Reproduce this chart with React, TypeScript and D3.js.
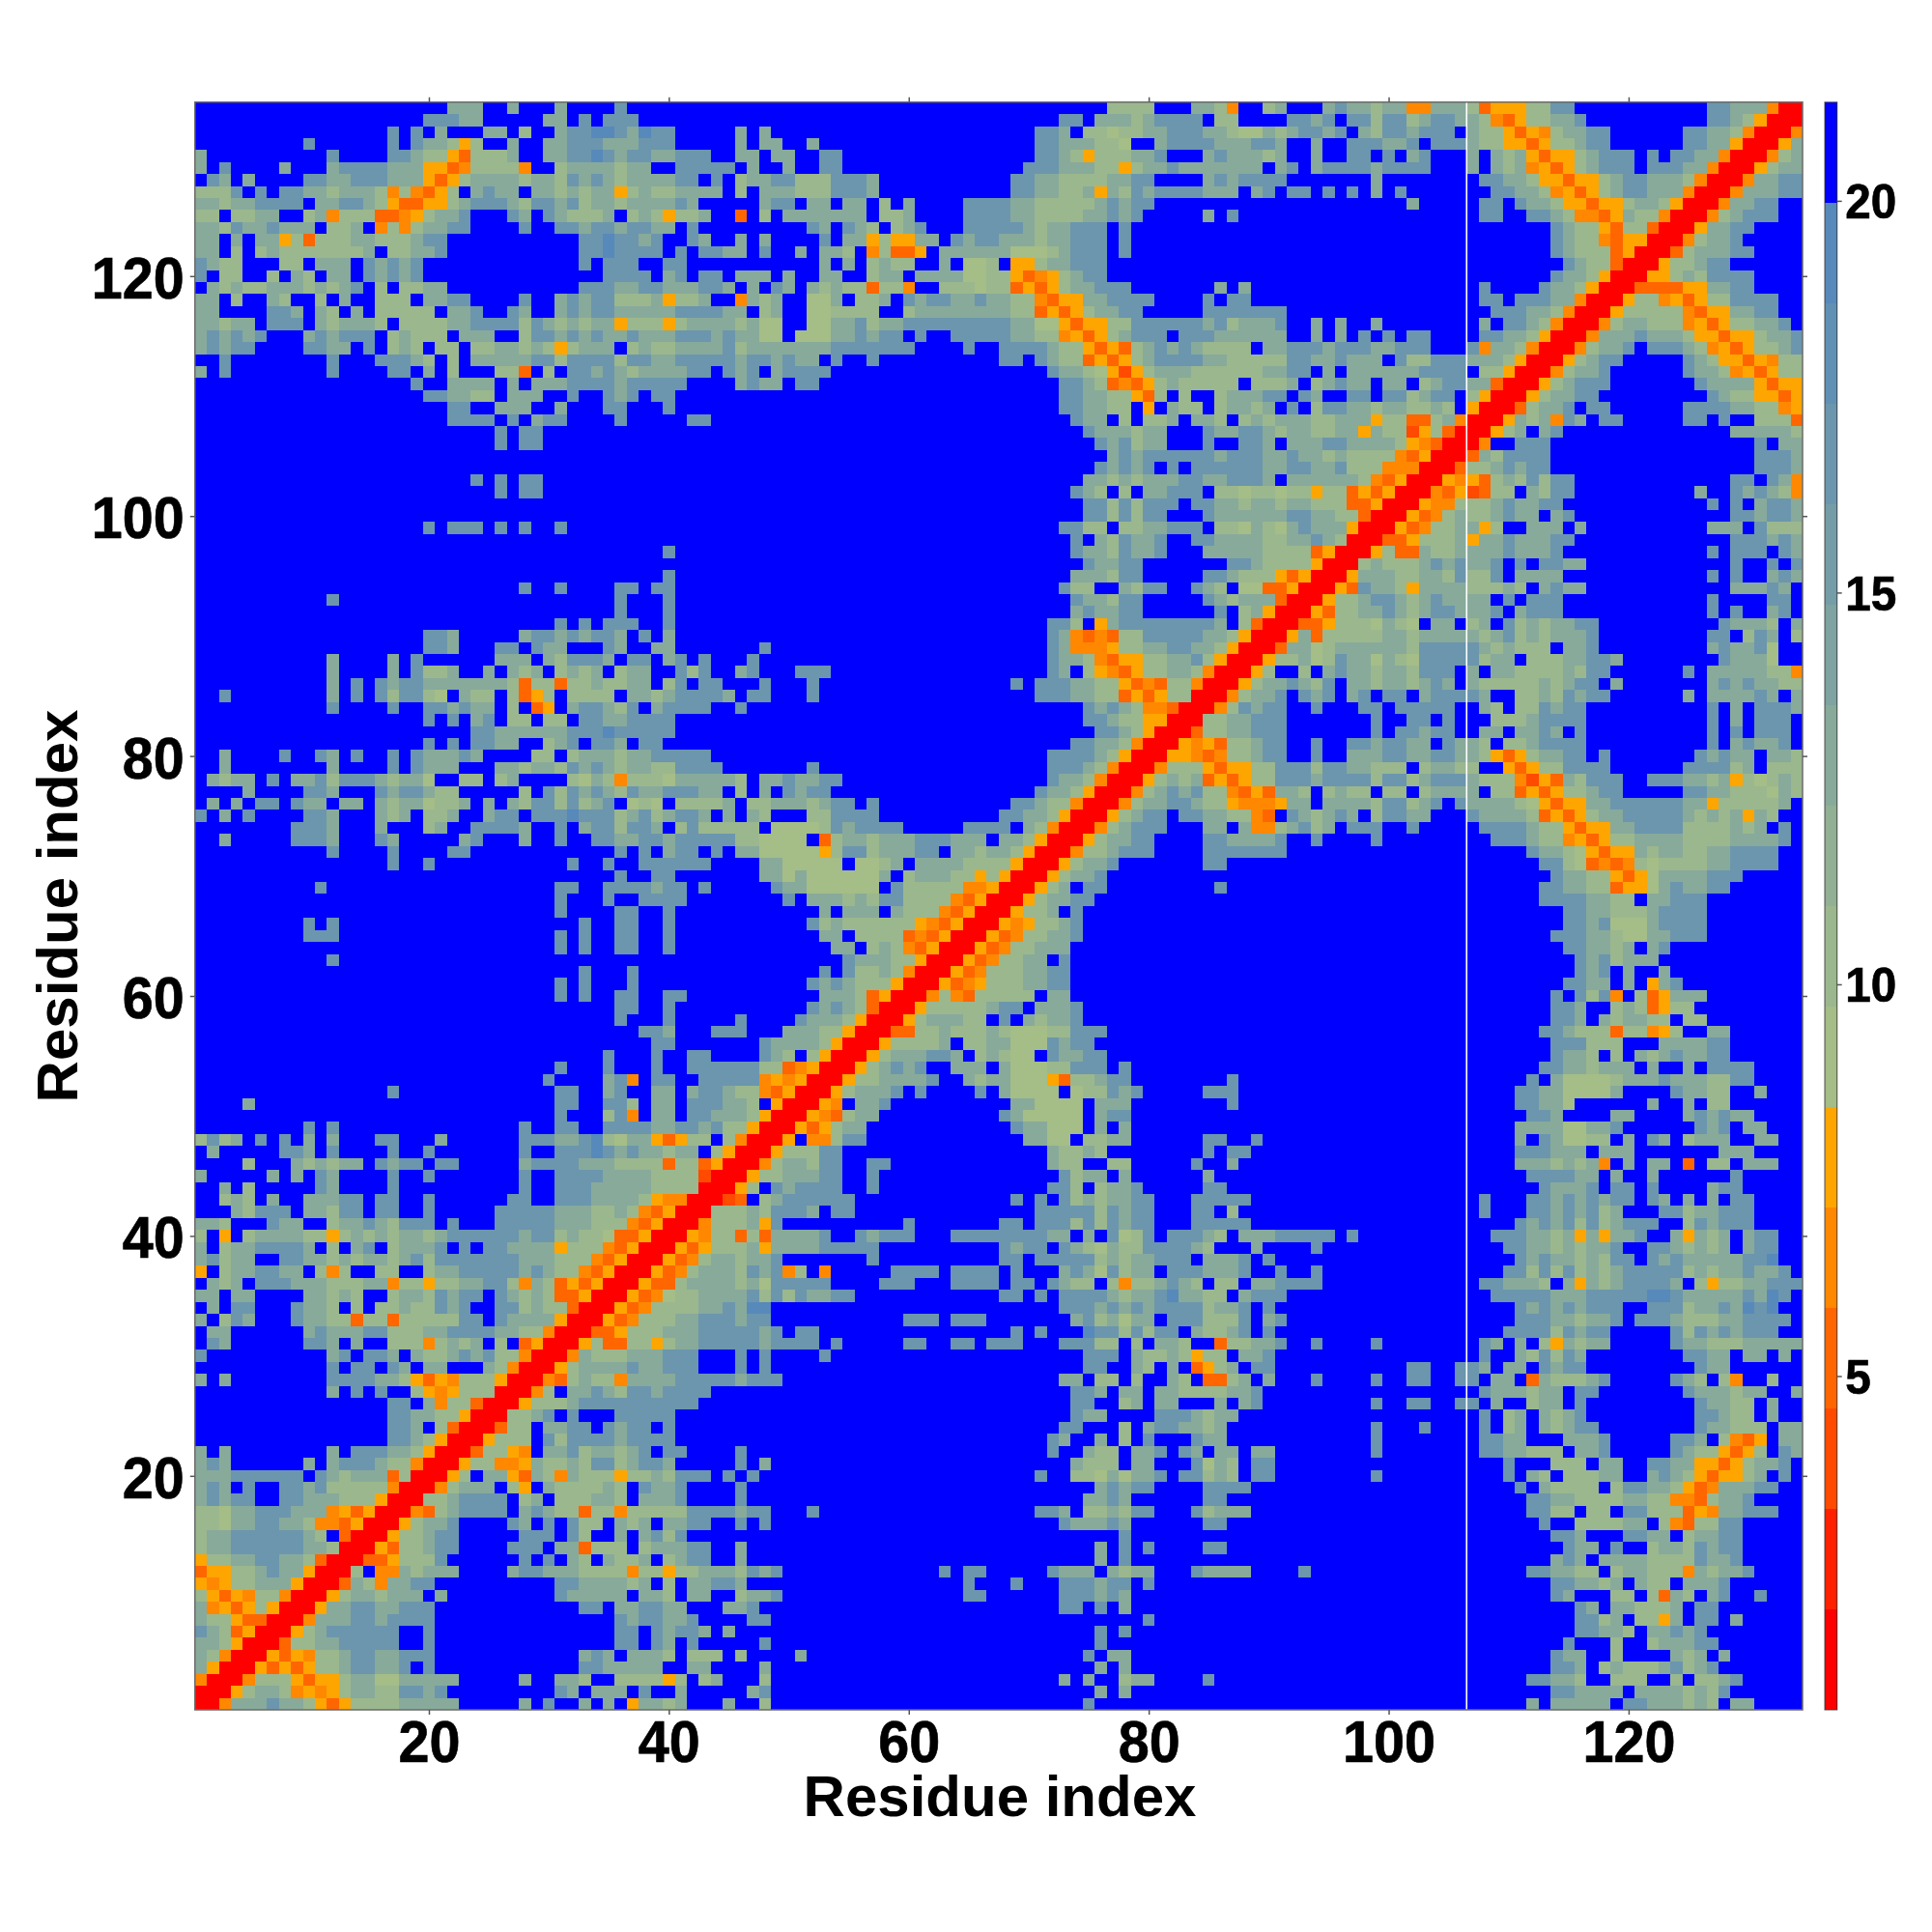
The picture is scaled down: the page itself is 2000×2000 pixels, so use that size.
import React, { useEffect, useRef } from "react";
import * as d3 from "d3";

// Distance bins, letter -> value at the middle of the bin
const binLetters = "abcdefgihkjlmno.";
const binValues = [1.38, 2.66, 3.95, 5.23, 6.51, 7.79, 9.08, 10.36, 11.64, 12.92, 14.21, 15.49, 16.77, 18.05, 19.34, 20.62];
const warmColors = ["#ff0000", "#ff2000", "#ff4a00", "#ff6600", "#ff8800", "#ffa500"];
const coolEnds = ["#a5bd87", "#5789bb"];
const farColor = "#0000ff";

const xTicks = [20, 40, 60, 80, 100, 120];
const barTicks = [5, 10, 15, 20];

// Map is symmetric, so only residue j <= i is kept. First line is i = 134, last i = 1.
// Each line has up to 3 chunks for j = 1-44, 45-89, 90-134. "3." = three far cells, short chunks end in far cells.
const distanceRows = [
  "21.kkk2.k3.k4.m 32.iiii3.kkie ik3.kmkkikkeekkkidfffiimm11.mmkkkeaa",
  "19.mmmkk5.kk.m.mmm 28.mm.kkkikmmmm.ii 2.mmkm.mmimmikmmkkiedfiikkm10.mmkifaa",
  "16.m.m.k3.kk.i2.kmmoomkomm .k.k22.mmk.iigiikkmmmkkigg kikmmkm.kimmkmmm.kiifdfeikkmm6.mmkkieaa",
  "9.m6.m.mkkifi2.k2.kkmmmkkkmmm .k.kk2.k18.mmkkkiig2.kmmmmkkkm mk2.k2.mmmkkm.mmmkiiffdfiikmm6.mmkkfaa",
  "k10.m4.mmkiifdiiik2.kkmmomkmmkkmmm .kk.kk2.mm16.mmkifiiikkm3.kmkkk ik2.k2.mm.m.km3.k.kikfdffikmmm.m.mmkkeaa",
  "k.m4.k3.kmmmmkkkffdeiiiie2.ikkkkikk2.mmmm m.k2.k2.mm15.mmmkkkiifikkmkkkkkkk .km.kmmmmkmmmm3.k.kikefdfikmmm.mmmkkeaa",
  ".mk.k4.mmkkmmmkkkfdfikkkkikkimkmkikkkkmm.m .ikkmmiiimmmk11.mmkkiiiikkmm4.kmkmm mm7.k8.mmkkiffdffikmmkkkieaa",
  "iiim.m.mmkkikkkieiedfi.kmkk.kkikikkfikiikkkk .i.kkkiiimmmk11.mmkkiikfkimkmmmmkkk.k m.mm.m.m.k.m7.mmkkiefdfikmmkkkeaa",
  "kkikkmmmm.kkmmkifddffikmmmkimmkmikkikkkkmk2. 3.kmm.kk.kk.i.k4.mmmmkkiiiiikmkmm 12.k5.mm.mkkiffdffikkifaa",
  "ii.iikk2.ikeiiiddefikkm3.mk.mkiiik.ikifiik .d.i.kkkkkkk.iik4.mmmmkkiiiikkmkm5.k.m 18.mm2.mmkieedfkiieaa",
  "kkimkkmkkk.iik.eieikkmm4.m2.mmkmmkmmkk.m 7.mk.mki.ikm3.mmmmmkikkmmm.m 24.mkiifdiidaa",
  "kk.k.kkfidiiikkiiikmm11.mmommkm2.mk .k.k4.m.kkfiffkk.mkmmkkkikkmmm.m 24.mkiiedffaa",
  "kk.i.ikiiiiiiik.iikkm11.mmommmm.m.mm kk.m2.k.kki.eiddf.kkkkkkgggikmmm.m 24.mkiiidfaa",
  "mkii3.ii.kkk.mkmkm13.m.mmm2.mm 8.k.k.ikii2.k.ggi.ffikkmmm 25.mkiidaa",
  "m.ii2.i.ki.kk.mkmkm15.mmmm.km.mm .kkk.k2.kk2.ikk.kkkkggiifdefikmm 24.mkkifaa",
  ".kikiikkkikikm.i.iikk11.mmmkkmmkkkmm k.k.mk.kikiidiie2.iiigiidfdfikkmmm7.k.k 18.m4.mkkifaa",
  "kk.i2.ki2.i.k2.iii.kkmm4.m2.kmkmmiiikfiik. .ekik2.ggk.iik.mkmmkkmkkiiedffkkmmmm4.m.mm 18.mm.mmmkkeaa",
  "kk4.mmk.ki.k.iiiii.kkm2.mk2.kmkmmkkkkkmmmm kk.ik2.ggiiii2.ikkkkkkkkiidfdfikkmm5.mmmmm mm17.mmmkkieaa",
  "kkikk.mmm.kikkki.iiiikkmmmmimkikikkfiiifikkk kikgg2.ggkkmikkmmmmmmmmmkkggfdffiimmmmmmkmikk km2.k.k2.k8.k.mmkieaa",
  "kmkmkm3.kmkmmm.ikiii.kkk2.immkmkmkkmkkkmmmk mkkgg.gggkkmkmm.m2.mmmmmkkiiefdfikmmm.mmmkkkk kk2.k.k.m.m.mm4.mmkkifaa",
  "kmkmm4.mmkk.m.iki.ii.iikkikifikkk.ikiikkkk mikkkkkkkmmmmmmm4.m2.mmmmkiifdfdikmkmkiiii. kkmmmkmmmkkmmm3.mekkieaa",
  "2.m8.m3.mmmki.i.kkkkkmmimmmmimmkkmmmm mkmmkmkk.m2.m10.mm.mkiidfdfikmmmmkkiii iimmkkmkkk.miimmmkkkifaa",
  "k.m8.m4.mm.k.i3.iid.i.mmkmkikkkkmm. mkm.kmmmm18.mkkigfcfikkkiiiiii kkmm.k.kkkkkkmmmm.iifaa",
  "18.m2.kkkk.k.kkkmmmmkmmmmm .kmkk.mm20.mmkidedfikiiiii.i iik.ikmkk.kk.ikmmkkdaa",
  "19.mmkkii.kkk2.m2.mkm.mm 28.mmkkiifdi.i2.ikkk mm.mk2.mm.mmikmm.ifaa",
  "21.mm2.kkk2.k3.mm3.m 28.mmkkii.f.kii.ikki k.m.immkkikkiiki.faa",
  "21.mmmm.m.kmm4.m5.mm 29.mkk.i.iik.kki.ik ikkkiikkkfiiddikeaa",
  "25.m.mm 30.mkkkikk3.mkkmm kikkiikkfkiicfidaa",
  "25.m.mm 31.mkmikk3.m2.mm k.kkkmmkkkkifedaa",
  ". 32.kmkmmmmmmkmmm kkmkkikiiiiedfaa",
  ". 31.mkmkm.m.mmmmmm kkmmkkmiiieeeaa",
  "23.m.m.mm 30.kkikikkkmmkkmmm k.kkkkkkiedfaa",
  "25.m.mm 29.mki.i.kkmmm.iigi igiifiidfdfaa",
  ". 30.mmimimmm.mmkkik kikkiiiddfaa",
  ". 30.mmimimm3.mkkkk kkmmkkiidaa",
  "19.m.mmm.m.m2.m 28.mmii.iikkmmm.iigk igkmkkkfaa",
  ". 29.m.kimkkm2.mmkkkk iikkmkiaa",
  "39.m 29.mkkimkkm3.kkkkk iiiidfaa",
  ". 30.mkkmm7.mmk iiiifaa",
  "39.m 29.kkkimm5.mmkii ifdfaa",
  "27.m2.m4.mm.mm 28.mii2.kimm2.mki.gg ddfaa",
  "11.m23.m3.m 29.mkkimm5.mkikk kdaa",
  "35.m3.m 29.kmkkmm6.m.ik faa",
  "30.m.m.mmm2.m 27.mmi.fkmmmmmmmmk.id aa",
  "19.mmk5.kmmkmkmmk.m.k 27.mkedediimmmmmkkifa a",
  "19.mmk3.mm.mkk3.mk2.kk 3.m23.mkeeefiikkmmkkifaa",
  "11.k4.k.m6.kkk.kimmmk.mm.km.m 2.m24.mkkiedffiikkmifaa",
  "11.k4.k.miik2.k.kik.ikik.ikk2.mim .km3.mmm18.mk.ifedfiikkieaa",
  "11.k.m.mkmmkkkkkkkidiidiikiikk.im.mm 3.m3.m16.m.mmmkkiifdediieaa",
  "2.m8.k.m.mimmig.kii.idfi.iiii.kkikmmmm k.mm3.m18.mmmkkiidfdfiiaa",
  "11.m4.m2.mmkmkk.i.df.kmmkim.kmmmm .m28.mkmkieedaa",
  "19.m.m.km.ii.ii.mmkkmmmm 30.mmkiiffaa",
  "23.mmkkkkkkmmmommmmm 31.mmkifaa",
  "19.m.m.mmkk2.ikm.mmk.mm 29.mmkkieaa",
  "2.k4.m2.mk.m2.m.mkkkmk4.ii.ikkkikkmmmmm 27.mmmmkifaa",
  "2.k8.k4.m.mkkk3.kkikkimkmkikkiimmmm 7.m19.mmmkieaa",
  ".kikk.m.kkmimmmkikkg2.ii.ik4.igkieiiigkkkk ki.kkmkkmm17.mkkieaa",
  "4.k4.mmk3.mkmmkii5.i.mimkmkimkkmmmkk .i.k.mkmm17.mkkifaa",
  ".k.k.mm.mkk.kk.kikkgiik.k.kimmimikm.gig.iiii k.iikkkikmm.m11.mmkiieaa",
  "m.k.m4.mmk3.kik.iik2.kmm.mmmommmikmikmmk. k.ki3.iimmmm10.mmkkifaa",
  "8.mmmk3.k3.ik2.mmmmk2.m.kmmimmk.imii iii.ggggimkmmmm5.mmmm.kieaa",
  "2.k5.mmmk3.mk5.km3.k2.m2.mmkkmmkmmmm miigggg.dikkikkkmmmkkk.kkifaa",
  "11.m4.m4.mm12.m.m.kmm.m .kkgggggfimmikkkmm.kkikkifaa",
  "16.m2.m11.m2.m2.mmmmmm 3.kkggggg.ggik.kkkkiiiifaa",
  "35.m2.mm 3.kkgkggggggk.ikkkiififaa",
  "10.m19.mm2.mmmmkmm.m 4.mkkgggggg.miiiiieefaa",
  "30.m3.m2.mmmm 5.m.kkkikimmiiiiedfaa",
  "30.m4.mm2.m 8.k.kkk.kiiiedfaa",
  "9.m.m20.m2.mm2.m 7.mikiiiiiifedfaa",
  "9.mmm18.m.m2.mm2.m 8.kk.iiiidedfaa",
  "30.m.m2.mm2.m 9.kk.ikiedfaa",
  "11.m 10.mkkkiifaa",
  "32.m3.m 8.m.miikieaa",
  "30.m.m3.m 7.mkmkiiifaa",
  "30.m.m2.mm2.mm 8.kkkidfaa",
  "35.mm2.m 7.mkmkidaa",
  "35.m3.m .m4.mkkkifaa",
  "37.mmk3.m mm3.kkkiifaa",
  "38.mm 3.mkkkkifaa",
  "34.m3.m2.mm 3.mki.ifaa",
  "30.m3.m3.m2.mmm mmmiidefaa",
  "29.m4.kme.mm2.mm mmmefefaa",
  "16.m13.mm2.km2.kk.kmm kiiedfaa",
  "4.k25.mm2.mmi.kk.mmm kki.faa",
  "30.m3.ime.kk.mmk kkifaa",
  "9.m.m15.m2.mm2.mmmmkkmmkm iifaa",
  "imik.m.m.k.k3.mm3.k6.mmmkkmoigkkfdfii. ieaa",
  ".k5.mmk.m4.m2.m7.m2.mmmomkmkkikk.i faa",
  "4.i3.kikikk.mkmm.mm5.kmmmmkkkiiiidiidf aa",
  "k5.k.k.mk4.m2.m7.m2.mmmmkkkkiiiica a",
  "2.k.i5.mk4.m10.m2.mmmkkkkkiiiiaa",
  "2.iki.k2.kkkmm.mm2.m6.mm2.mmmkkkkifeeaa",
  "3.kimmm.kkimm.mm2.m5.mmmmmkkkiikiedfaa",
  "kki3.mkk2.ikkmkimmm.m3.mmmmmkkkiiiedfaa",
  "i.f.ikkkkiifikikikkikmmmmmmkmmikiigddfaa",
  "k.ikkmmmmk.i.km.ikkkm.m.mmkkkkfiiiedfaa",
  "kmikk2.mmkkikikkikmimmmmmmmkkkiiiedfaa",
  "f.ikkmmkk.iei2.ii2.ikkmmmmmkmkiiedfaa",
  ".kik.mmmkkkiiikkeiifiikkmmiekidfdfaa",
  "kk.kk4.kkiki2.ikkimkmm.mkikiddfaa",
  ".k.mm3.mkki.i.iikiimkm2.mmikiidaa",
  "k.imk3.mkkiidiidiiiiimm.mkkkkfaa",
  ".kk6.kmkkkmmiiikkmmmmkkiieaa",
  ".mk6.mmk.k2.iiieikik.i.dfaa",
  "m10.km.mmk.kiikmkmiieaa",
  "11.m.mm.mk.kk3.kieaa",
  "k.k8.mmmmkkifdfeiiifaa",
  "11.k.m.m2.ifefiiiaa",
  "16.mm.keiidaa",
  "16.mmkkiifaa",
  "16.mmk.idaa",
  "16.mmkifaa",
  "k.k8.k.mmmkkifaa",
  "kmk6.k.kmmmkiieaa",
  "kkkmmmmmm.mkikkkdiaa",
  "kmk.m2.mmkmiiiiieaa",
  "kmkmm2.mmkkkiiifaa",
  "iigkkmmmkkkefdfaa",
  "iigkkmmkkieedfaa",
  "ikkmmmmmmki.daa",
  "ikkmmmmmmkkiaa",
  "fiikkmmkkidaa",
  "dffiikmkkfaa",
  "fefiikkkfaa",
  "ifdfeiieaa",
  "kefdfifaa",
  "kiifddaa",
  "mkidfaa",
  "kkifaa",
  "kieaa",
  "kfaa",
  "eaa",
  "aa",
  "a",
];

const residueCount = distanceRows.length;
const chunkStarts = [1, 45, 90];

const expandChunk = (chunk: string) =>
  chunk.replace(/(\d+)([a-z.])/g, (_, n, c) => c.repeat(+n));

const decodeRow = (line: string, i: number) => {
  const cells: string[] = new Array(i).fill(".");
  line.split(" ").forEach((chunk, k) => {
    const text = expandChunk(chunk);
    for (let n = 0; n < text.length; n++) {
      const j = chunkStarts[k] + n;
      if (j <= i) cells[j - 1] = text[n];
    }
  });
  return cells;
};

const App = () => {
  const container = useRef<SVGSVGElement>(null);

  useEffect(() => {
    const svg = d3.select(container.current);
    svg.selectAll("*").remove();

    const left = 201.8;
    const right = 1866;
    const top = 105.7;
    const bottom = 1770;
    const fontFamily = "'Liberation Sans', Arial, sans-serif";

    const x = d3.scaleLinear().domain([0.5, residueCount + 0.5]).range([left, right]);
    const y = d3.scaleLinear().domain([0.5, residueCount + 0.5]).range([bottom, top]);

    const palette = [
      ...warmColors,
      ...d3.quantize(d3.interpolateRgb(coolEnds[0], coolEnds[1]), 9),
      farColor,
    ];
    const barDomain: [number, number] = [0.74, 21.26];
    const color = d3.scaleQuantize<string>().domain(barDomain).range(palette);

    // cell table, filled in both halves
    const cells: { i: number; j: number; value: number }[] = [];
    distanceRows.forEach((line, idx) => {
      const i = residueCount - idx;
      decodeRow(line, i).forEach((c, k) => {
        const j = k + 1;
        const value = binValues[binLetters.indexOf(c)];
        cells.push({ i, j, value });
        if (i !== j) cells.push({ i: j, j: i, value });
      });
    });

    svg
      .append("g")
      .attr("shape-rendering", "crispEdges")
      .selectAll("rect")
      .data(cells)
      .join("rect")
      .attr("x", (d) => x(d.j - 0.5))
      .attr("y", (d) => y(d.i + 0.5))
      .attr("width", (d) => x(d.j + 0.5) - x(d.j - 0.5))
      .attr("height", (d) => y(d.i - 0.5) - y(d.i + 0.5))
      .attr("fill", (d) => color(d.value));

    // thin white gap in the plot
    svg
      .append("line")
      .attr("x1", x(106.5))
      .attr("x2", x(106.5))
      .attr("y1", top)
      .attr("y2", bottom)
      .attr("stroke", "#ffffff")
      .attr("stroke-width", 1.6);

    // frame and axes
    svg
      .append("rect")
      .attr("x", left)
      .attr("y", top)
      .attr("width", right - left)
      .attr("height", bottom - top)
      .attr("fill", "none")
      .attr("stroke", "#6b6b6b")
      .attr("stroke-width", 1.5);

    const styleAxis = (g: any, size: number, digitWidth: number) => {
      g.select(".domain").remove();
      g.selectAll(".tick line").attr("stroke", "#555555").attr("stroke-width", 1.5);
      g.selectAll(".tick text")
        .attr("fill", "#000000")
        .attr("stroke", "#000000")
        .attr("stroke-width", 0.7)
        .attr("textLength", function (this: any) {
          return this.textContent.length * digitWidth;
        })
        .attr("lengthAdjust", "spacingAndGlyphs")
        .style("font-family", fontFamily)
        .style("font-weight", "bold")
        .style("font-size", `${size}px`);
    };

    const bottomAxis = svg
      .append("g")
      .attr("transform", `translate(0,${bottom})`)
      .call(d3.axisBottom(x).tickValues(xTicks).tickSize(5) as any);
    styleAxis(bottomAxis, 62, 32);
    bottomAxis.selectAll(".tick text").attr("y", 54).attr("dy", 0);

    const leftAxis = svg
      .append("g")
      .attr("transform", `translate(${left},0)`)
      .call(d3.axisLeft(y).tickValues(xTicks).tickSize(5).tickPadding(6) as any);
    styleAxis(leftAxis, 62, 32);
    leftAxis.selectAll(".tick text").attr("dy", 22.5);

    const topAxis = svg
      .append("g")
      .attr("transform", `translate(0,${top})`)
      .call(d3.axisTop(x).tickValues(xTicks).tickSize(5).tickFormat(() => "") as any);
    styleAxis(topAxis, 10, 0);

    const rightAxis = svg
      .append("g")
      .attr("transform", `translate(${right},0)`)
      .call(d3.axisRight(y).tickValues(xTicks).tickSize(5).tickFormat(() => "") as any);
    styleAxis(rightAxis, 10, 0);

    // colour bar
    const barLeft = 1889;
    const barRight = 1901.7;
    const barY = d3.scaleLinear().domain(barDomain).range([bottom, top]);

    svg
      .append("g")
      .attr("shape-rendering", "crispEdges")
      .selectAll("rect")
      .data(palette)
      .join("rect")
      .attr("x", barLeft)
      .attr("width", barRight - barLeft)
      .attr("y", (d) => barY(color.invertExtent(d)[1] as number))
      .attr("height", (d) => barY(color.invertExtent(d)[0] as number) - barY(color.invertExtent(d)[1] as number))
      .attr("fill", (d) => d);

    svg
      .append("rect")
      .attr("x", barLeft)
      .attr("y", top)
      .attr("width", barRight - barLeft)
      .attr("height", bottom - top)
      .attr("fill", "none")
      .attr("stroke", "#333333")
      .attr("stroke-opacity", 0.7)
      .attr("stroke-width", 1.2);

    const barAxis = svg
      .append("g")
      .attr("transform", `translate(${barRight},0)`)
      .call(d3.axisRight(barY).tickValues(barTicks).tickSize(5).tickPadding(3.5) as any);
    styleAxis(barAxis, 50, 26.5);
    barAxis.selectAll(".tick text").attr("dy", 18);

    // axis titles
    svg
      .append("text")
      .attr("x", 1035)
      .attr("y", 1880)
      .attr("text-anchor", "middle")
      .style("font-family", fontFamily)
      .style("font-weight", "bold")
      .style("font-size", "60px")
      .text("Residue index");

    svg
      .append("text")
      .attr("transform", "translate(80,938) rotate(-90)")
      .attr("text-anchor", "middle")
      .style("font-family", fontFamily)
      .style("font-weight", "bold")
      .style("font-size", "60px")
      .text("Residue index");
  }, []);

  return (
    <svg
      ref={container}
      width={2000}
      height={2000}
      style={{ position: "absolute", left: 0, top: 0, background: "#ffffff" }}
    />
  );
};

export default App;
